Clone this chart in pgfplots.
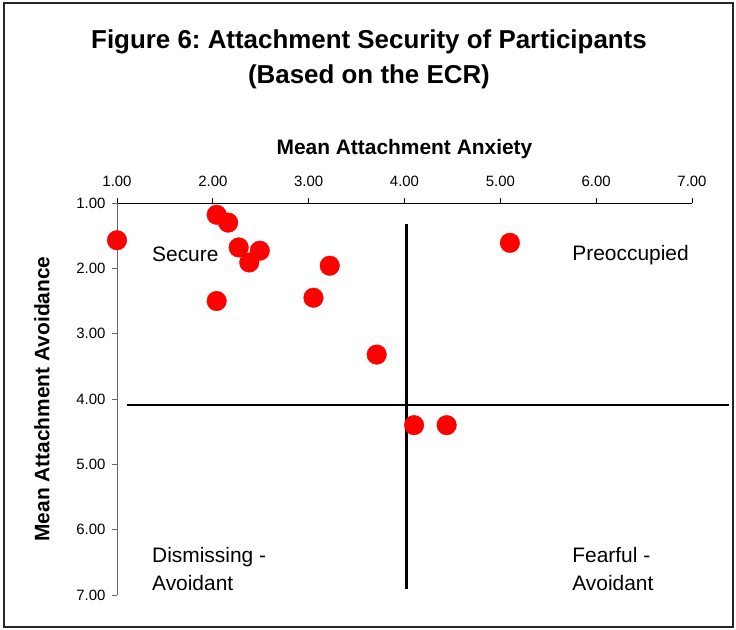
\documentclass[border=0pt]{standalone}
\usepackage{pgfplots}
\pgfplotsset{compat=1.18}
\usepackage{fontspec}
\setmainfont{Liberation Sans}
\frenchspacing
\begin{document}
\begin{tikzpicture}
\useasboundingbox (0,0) rectangle (736bp,630bp);
\draw[line width=1.2bp, black!85] (4bp,3bp) rectangle (733bp,627bp);
\node[align=center, font=\fontsize{26}{35}\selectfont\bfseries] at (369bp,571bp)
  {Figure 6: Attachment Security of Participants\\(Based on the ECR)};
\begin{axis}[
  at={(117bp,35bp)}, anchor=south west,
  scale only axis, width=575bp, height=392bp,
  xmin=1, xmax=7, ymin=1, ymax=7,
  y dir=reverse,
  axis x line*=top, axis y line*=left,
  x axis line style={-, black, line width=0.9bp},
  y axis line style={-, black!60, line width=0.9bp},
  xtick={1,2,3,4,5,6,7}, ytick={1,2,3,4,5,6,7},
  tick align=outside, major tick length=5bp,
  x tick style={black, line width=0.7bp},
  y tick style={black!60, line width=0.7bp},
  xticklabel pos=right,
  /pgf/number format/assume math mode=true,
  /pgf/number format/.cd, fixed, fixed zerofill, precision=2, /pgfplots/.cd,
  ticklabel style={font=\fontsize{15}{16}\selectfont},
  xticklabel style={yshift=8bp},
  yticklabel style={xshift=-3bp},
  xlabel={\textbf{Mean Attachment Anxiety}},
  ylabel={\textbf{Mean Attachment Avoidance}},
  label style={font=\fontsize{21}{24}\selectfont},
  xlabel style={yshift=10bp},
  ylabel style={yshift=20bp},
  clip=false,
]
\addplot[black, line width=2.2bp] coordinates {(4.02,1.32) (4.02,6.91)};
\addplot[black, line width=2.2bp] coordinates {(1.10,4.09) (7.39,4.09)};
\addplot[only marks, mark=*, mark size=9.8bp, mark options={fill=red, draw=red}] coordinates {
  (1.00,1.57) (2.04,1.18) (2.16,1.30) (2.27,1.68) (2.49,1.73) (2.38,1.91)
  (3.22,1.96) (2.04,2.50) (3.05,2.45) (3.71,3.32) (4.10,4.40) (4.44,4.40)
  (5.10,1.61)
};
\node[anchor=west, inner sep=0pt, font=\fontsize{21}{28}\selectfont] at (axis cs:1.365,1.78) {Secure};
\node[anchor=west, inner sep=0pt, font=\fontsize{21}{28}\selectfont] at (axis cs:5.75,1.80) {Preoccupied};
\node[anchor=west, inner sep=0pt, align=left, font=\fontsize{21}{28}\selectfont] at (axis cs:1.365,6.60) {Dismissing -\\Avoidant};
\node[anchor=west, inner sep=0pt, align=left, font=\fontsize{21}{28}\selectfont] at (axis cs:5.75,6.60) {Fearful -\\Avoidant};
\end{axis}
\end{tikzpicture}
\end{document}
